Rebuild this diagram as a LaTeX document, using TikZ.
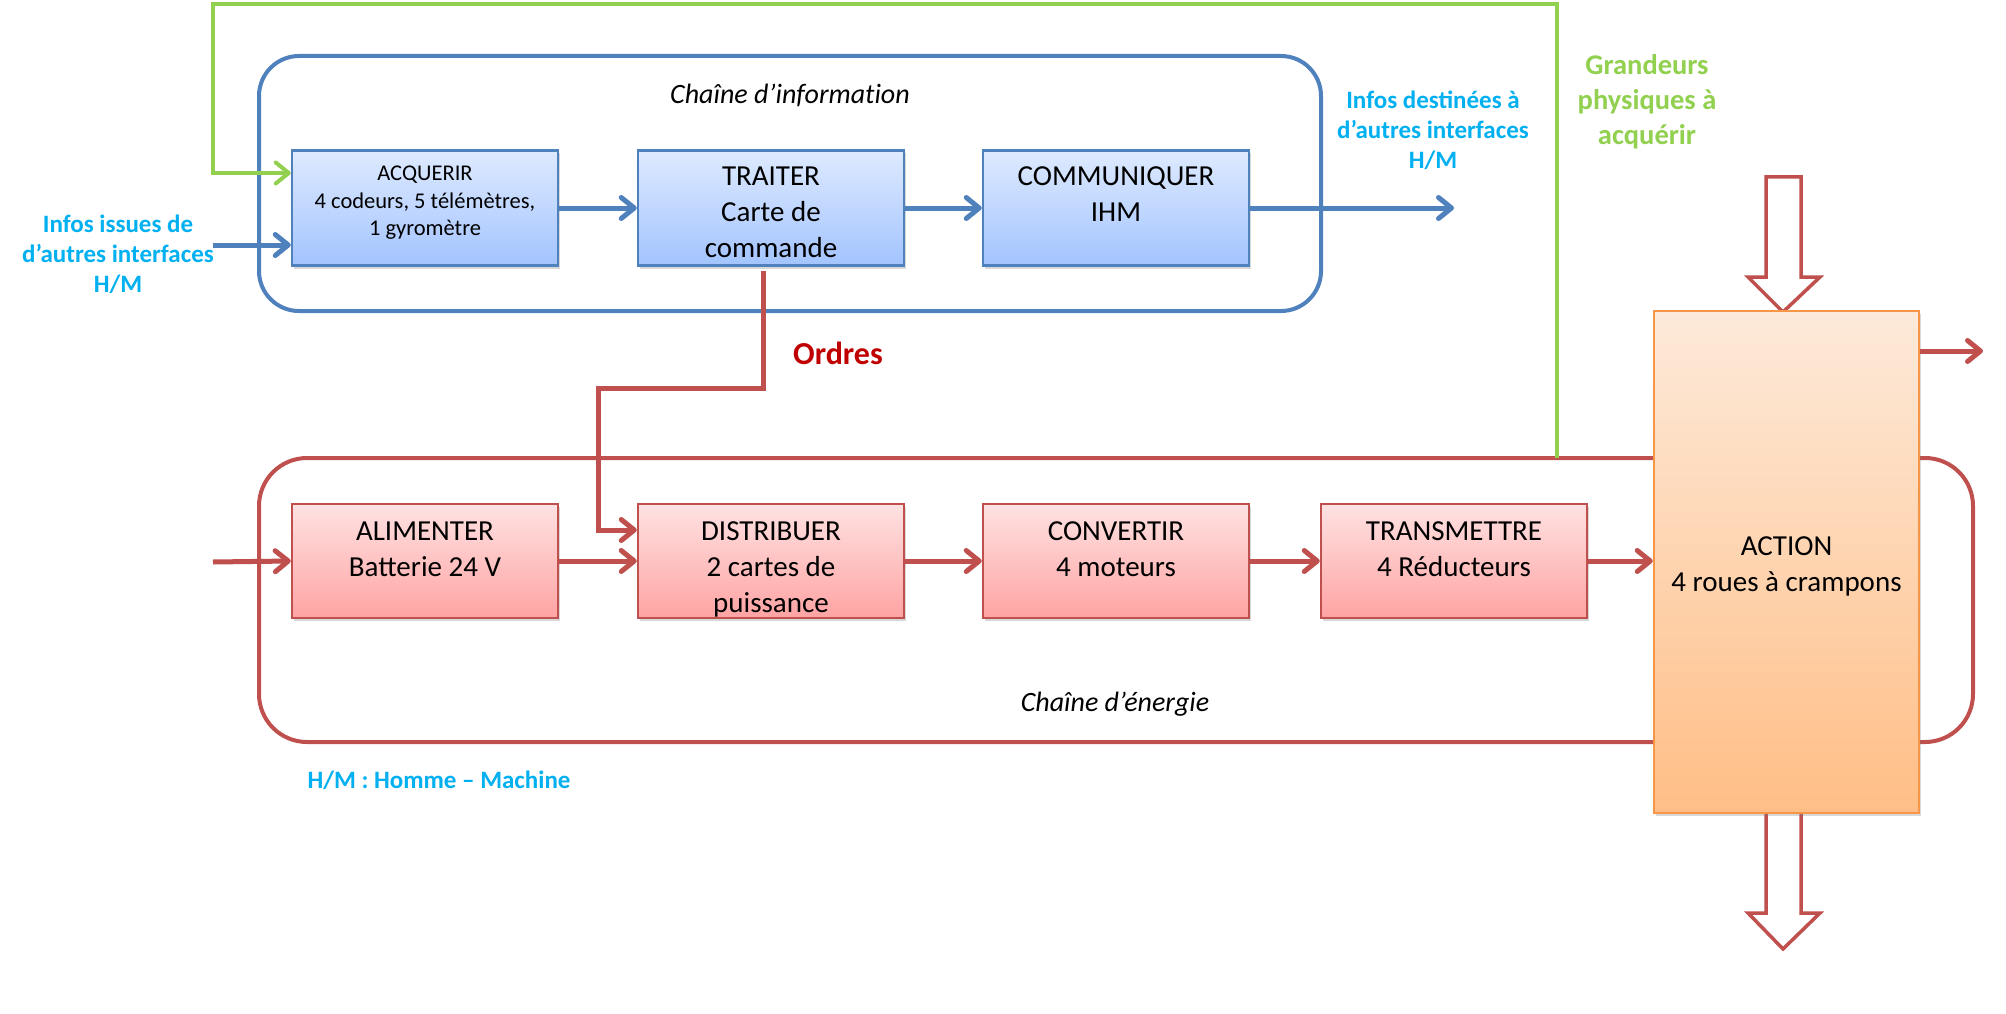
\documentclass[tikz,border=0pt]{standalone}
\usepackage{fontspec}
\setmainfont{Carlito}
\usetikzlibrary{arrows.meta,shadows,calc}
\definecolor{bline}{RGB}{79,129,189}
\definecolor{btop}{RGB}{222,234,255}
\definecolor{bbot}{RGB}{163,196,255}
\definecolor{rline}{RGB}{192,80,77}
\definecolor{rtop}{RGB}{255,226,226}
\definecolor{rbot}{RGB}{255,163,163}
\definecolor{oline}{RGB}{247,150,70}
\definecolor{otop}{RGB}{253,234,218}
\definecolor{obot}{RGB}{255,190,134}
\definecolor{gline}{RGB}{146,208,80}
\definecolor{cyantxt}{RGB}{0,176,240}
\definecolor{ordrescol}{RGB}{192,0,0}
\tikzset{
  box/.style={minimum width=266pt, minimum height=115pt, inner sep=0pt, line width=2.5pt,
    drop shadow={opacity=0.3, shadow xshift=1.5pt, shadow yshift=-3pt}},
  boxtxt/.style={align=center, inner sep=0pt, font=\fontsize{29}{36}\selectfont},
  bluebox/.style={box, draw=bline, top color=btop, bottom color=bbot},
  redbox/.style={box, draw=rline, top color=rtop, bottom color=rbot},
  actionbox/.style={box, draw=oline, top color=otop, bottom color=obot, minimum width=265pt, minimum height=502pt},
  barb/.style={-{Straight Barb[length=13pt,width=21pt,round]}},
  bluearrow/.style={draw=bline, line width=5pt, barb},
  redarrow/.style={draw=rline, line width=5pt, barb},
  greenarrow/.style={draw=gline, line width=4pt, barb},
  blockarrow/.style={draw=rline, line width=3.5pt, fill=white},
  chainframe/.style={line width=4pt, rounded corners=#1},
  cyanlbl/.style={text=cyantxt, font=\bfseries\fontsize{25}{30}\selectfont, align=center},
  greenlbl/.style={text=gline, font=\bfseries\fontsize{28.5}{35}\selectfont, align=center},
  chainlbl/.style={font=\itshape\fontsize{28}{34}\selectfont\addfontfeatures{Ligatures=NoCommon}},
}
\begin{document}
\begin{tikzpicture}[x=1pt,y=-1pt]
\useasboundingbox (0,0) rectangle (2006,1014);
\fill[white] (0,0) rectangle (2006,1014);

% frames
\draw[chainframe=40pt, draw=bline] (259,56) rectangle (1321,311);
\draw[chainframe=48pt, draw=rline] (259,458) rectangle (1973,742);

% labels
\node[chainlbl] (ci) at (790,95) {Chaîne d’information};
\node[chainlbl] (ce) at (1115,704) {Chaîne d’énergie};
\node[cyanlbl] (infosin) at (118,254) {Infos issues de\\d’autres interfaces\\H/M};
\node[cyanlbl] (infosout) at (1433,130) {Infos destinées à\\d’autres interfaces\\H/M};
\node[greenlbl] (grand) at (1647,102) {Grandeurs\\physiques à\\acquérir};
\node[text=ordrescol, font=\bfseries\fontsize{32}{38}\selectfont] (ord) at (838,353) {Ordres};
\node[cyanlbl] (hm) at (439,780) {H/M : Homme – Machine};

% block arrows (behind action box)
\draw[blockarrow] (1766,177) -- (1801,177) -- (1801,277) -- (1820,277) -- (1783,312) -- (1748,277) -- (1766,277) -- cycle;
\draw[blockarrow] (1766,808) -- (1801,808) -- (1801,913) -- (1820,913) -- (1783,949) -- (1748,913) -- (1766,913) -- cycle;

% boxes
\node[bluebox] (acq) at (425,208) {};
\node[boxtxt, font=\fontsize{22.5}{27.5}\selectfont] (acqtxt) at ([yshift=5pt]acq.center) {ACQUERIR\\4 codeurs, 5 télémètres,\\1 gyromètre};
\node[bluebox] (trait) at (771,208) {};
\node[boxtxt] (traittxt) at ([yshift=-4pt]trait.center) {TRAITER\\Carte de\\commande};
\node[bluebox] (comm) at (1116,208) {};
\node[boxtxt] (commtxt) at ([yshift=-4pt]comm.center) {COMMUNIQUER\\IHM\\\mbox{}};
\node[redbox, minimum height=114pt] (alim) at (425,561) {};
\node[boxtxt] (alimtxt) at ([yshift=-6pt]alim.center) {ALIMENTER\\Batterie 24 V\\\mbox{}};
\node[redbox, minimum height=114pt] (dist) at (771,561) {};
\node[boxtxt] (disttxt) at ([yshift=-8pt]dist.center) {DISTRIBUER\\2 cartes de\\puissance};
\node[redbox, minimum height=114pt] (conv) at (1116,561) {};
\node[boxtxt] (convtxt) at ([yshift=-6pt]conv.center) {CONVERTIR\\4 moteurs\\\mbox{}};
\node[redbox, minimum height=114pt] (trans) at (1454,561) {};
\node[boxtxt] (transtxt) at ([yshift=-6pt]trans.center) {TRANSMETTRE\\4 Réducteurs\\\mbox{}};
\node[actionbox] (action) at (1786.5,562) {};
\node[boxtxt] (actiontxt) at ([yshift=-4pt]action.center) {ACTION\\4 roues à crampons};

% free ends
\coordinate (gstart) at (1557,458);
\coordinate (gtop) at (213,4);
\coordinate (infoin) at (213,245);
\coordinate (infoout) at (1454,208);
\coordinate (energyin) at (213,562);
\coordinate (actout) at (1983,351);
\coordinate (ordbend) at (598,388);

% information chain connectors
\draw[greenarrow] (gstart) |- (gtop) |- ([yshift=35pt]acq.west);
\draw[bluearrow] (infoin) -- ([yshift=-37pt]acq.west);
\draw[bluearrow] (acq) -- (trait);
\draw[bluearrow] (trait) -- (comm);
\draw[bluearrow] (comm.east) -- (infoout);

% orders
\draw[redarrow] ([xshift=-8pt,yshift=-4pt]trait.south) |- (ordbend) |- ([yshift=31pt]dist.west);

% energy chain connectors
\draw[redarrow] (energyin) -- (alim.west);
\draw[redarrow] (alim) -- (dist);
\draw[redarrow] (dist) -- (conv);
\draw[redarrow] (conv) -- (trans);
\draw[redarrow] (trans.east) -- (trans.east -| action.west);
\draw[redarrow] ([yshift=211pt]action.east) -- (actout);
\end{tikzpicture}
\end{document}
